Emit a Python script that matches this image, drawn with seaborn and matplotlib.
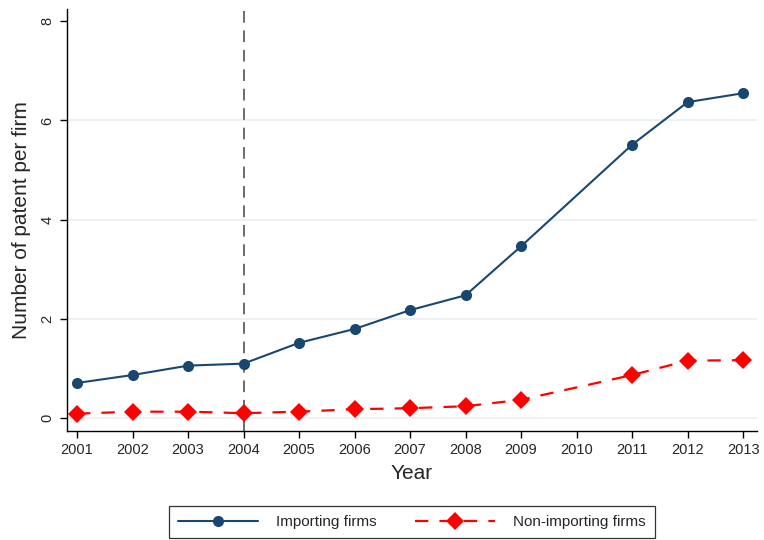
import numpy as np
import pandas as pd
import matplotlib
matplotlib.use("Agg")
import matplotlib.pyplot as plt
import seaborn as sns
from matplotlib.lines import Line2D

years = [2001, 2002, 2003, 2004, 2005, 2006, 2007, 2008, 2009, 2010, 2011, 2012, 2013]
importing = [0.70, 0.86, 1.05, 1.09, 1.51, 1.79, 2.17, 2.47, 3.46, np.nan, 5.51, 6.37, 6.55]
non_importing = [0.08, 0.12, 0.12, 0.09, 0.12, 0.17, 0.19, 0.23, 0.36, np.nan, 0.86, 1.15, 1.16]
y_ticks = [0, 2, 4, 6, 8]
series_names = ["Importing firms", "Non-importing firms"]
policy_year = 2004

sns.set_style("white")
plt.rcParams["font.family"] = ["Liberation Sans", "DejaVu Sans"]

navy = "#1a476f"
red = "#ff0000"

df_imp = pd.DataFrame({"Year": years, "value": importing}).dropna()
df_non = pd.DataFrame({"Year": years, "value": non_importing}).dropna()

fig = plt.figure(figsize=(7.64, 5.40), dpi=100)
ax = fig.add_axes([67 / 764, 1 - 431 / 540, 690 / 764, 422 / 540])

for yv in [0, 2, 4, 6]:
    ax.axhline(yv, color="#eaf0f2", lw=1.3, zorder=0)

ax.axvline(policy_year, color="#6b6b6b", lw=1.4, ls=(0, (6, 4)), zorder=1)

sns.lineplot(data=df_imp, x="Year", y="value", ax=ax, color=navy, lw=1.5,
             marker="o", markersize=8, markeredgewidth=0, zorder=3)
sns.lineplot(data=df_non, x="Year", y="value", ax=ax, color=red, lw=1.6,
             dashes=False, linestyle=(0, (6, 5)), marker="D", markersize=9,
             markeredgewidth=0, zorder=3)

ax.set_xlim(2000.82, 2013.25)
ax.set_ylim(-0.27, 8.25)
ax.set_xticks(years)
ax.set_xticklabels([str(y) for y in years], fontsize=10.5)
ax.set_yticks(y_ticks)
ax.set_yticklabels([str(v) for v in y_ticks], fontsize=10.5, rotation=90, va="center")
ax.tick_params(axis="both", direction="out", length=5, width=1, color="#000000",
               bottom=True, left=True, pad=4)
for s in ["top", "right"]:
    ax.spines[s].set_visible(False)
for s in ["left", "bottom"]:
    ax.spines[s].set_color("#000000")
    ax.spines[s].set_linewidth(1.0)

ax.set_xlabel("Year", fontsize=15, labelpad=5)
ax.set_ylabel("Number of patent per firm", fontsize=15, labelpad=7)

handles = [
    Line2D([], [], color=navy, lw=1.5, marker="o", markersize=8, markeredgewidth=0),
    Line2D([], [], color=red, lw=1.6, ls=(0, (6, 5)), marker="D", markersize=9, markeredgewidth=0),
]
leg = fig.legend(handles, series_names, loc="center", bbox_to_anchor=(412 / 764, 1 - 522 / 540),
                 ncol=2, fontsize=11, frameon=True, fancybox=False, handlelength=5.2,
                 columnspacing=2.5, borderpad=0.6, handletextpad=1.2)
leg.get_frame().set_edgecolor("#000000")
leg.get_frame().set_linewidth(0.9)

fig.savefig("out.png", dpi=100)
